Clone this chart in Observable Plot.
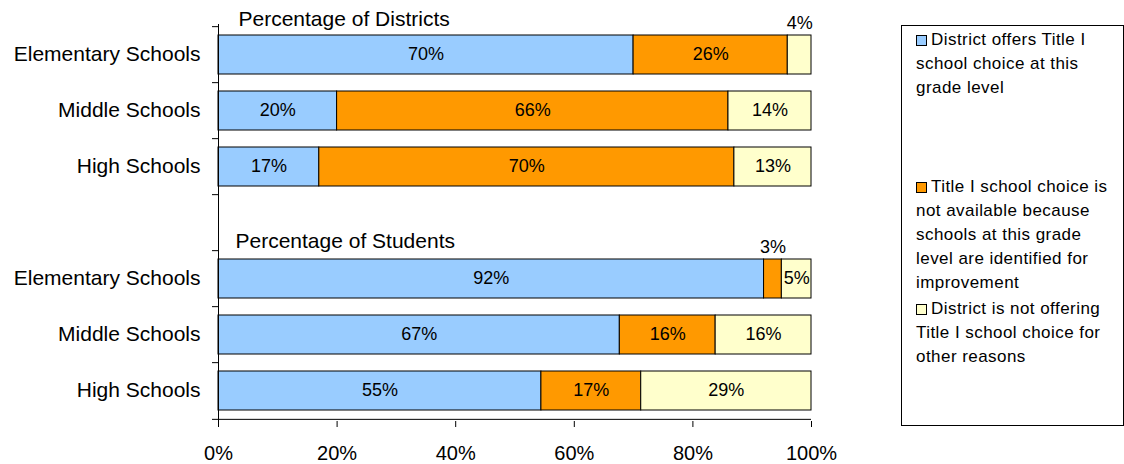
<!DOCTYPE html>
<html><head><meta charset="utf-8">
<script src="https://cdn.jsdelivr.net/npm/d3@7"></script>
<script src="https://cdn.jsdelivr.net/npm/@observablehq/plot@0.6"></script>
<style>
html,body{margin:0;padding:0;background:#fff;}
#wrap{position:relative;width:1124px;height:464px;overflow:hidden;font-family:"Liberation Sans",Arial,sans-serif;background:#fff;}
#chart{position:absolute;left:0;top:0;}
#legend{position:absolute;left:901px;top:25px;width:223px;height:401px;box-sizing:border-box;border:1px solid #000;}
.entry{position:absolute;left:14px;font-size:17px;line-height:24px;white-space:nowrap;color:#000;letter-spacing:0.45px;}
.sw{display:inline-block;width:9px;height:9px;border:1px solid #000;margin-right:4px;vertical-align:-1px;}
</style></head>
<body><div id="wrap"><div id="chart"></div><div id="legend"></div></div>
<script>
const groups = ["Districts", "Students"];
const groupTitles = ["Percentage of Districts", "Percentage of Students"];
const levels = ["Elementary Schools", "Middle Schools", "High Schools"];
const legendLines = [
  ["District offers Title I", "school choice at this", "grade level"],
  ["Title I school choice is", "not available because", "schools at this grade", "level are identified for", "improvement"],
  ["District is not offering", "Title I school choice for", "other reasons"]
];
const seriesNames = legendLines.map(l => l.join(" "));
const seriesColors = ["#99CCFF", "#FF9900", "#FFFFCC"];
// order: Districts (Elem, Middle, High), Students (Elem, Middle, High)
const offers = [70, 20, 17, 92, 67, 55];
const notAvailable = [26, 66, 70, 3, 16, 17];
const otherReasons = [4, 14, 13, 5, 16, 29];
const xTicks = [0, 20, 40, 60, 80, 100];

const yKeys = [];
const yLabel = new Map();
const table = [];
groups.forEach((g, gi) => {
  if (gi > 0) { yKeys.push("gap"); yLabel.set("gap", ""); }
  levels.forEach((l, li) => {
    const key = g + "|" + l;
    yKeys.push(key); yLabel.set(key, l);
    const i = gi * levels.length + li;
    [offers, notAvailable, otherReasons].forEach((arr, si) =>
      table.push({row: key, series: seriesNames[si], value: arr[i]}));
  });
});

const W = 890, H = 464, mt = 24, mb = 43, ml = 218, mr = 79;
const step = (H - mt - mb) / yKeys.length;
const lastKey = yKeys[yKeys.length - 1];
const stackOpts = {x: "value", y: "row", z: "series", offset: "normalize"};
const font = "'Liberation Sans', Arial, sans-serif";
const pct = d => Math.round(d * 100) + "%";

const chart = Plot.plot({
  width: W, height: H,
  marginTop: mt, marginBottom: mb, marginLeft: ml, marginRight: mr,
  style: {fontFamily: font, color: "#000", background: "#fff", overflow: "visible"},
  x: {domain: [0, 1]},
  y: {domain: yKeys, paddingInner: 0.3, paddingOuter: 0.15},
  color: {domain: seriesNames, range: seriesColors},
  marks: [
    Plot.barX(table, Plot.stackX({...stackOpts, fill: "series", stroke: "#000", strokeWidth: 1})),
    Plot.text(table, Plot.stackX({...stackOpts, text: d => d.value >= 5 ? d.value + "%" : null, fontSize: 18, fill: "#000", dy: -1})),
    Plot.text(table, Plot.stackX({...stackOpts, text: d => d.value < 5 ? d.value + "%" : null, fontSize: 18, fill: "#000", dy: -32})),
    Plot.ruleX([0], {stroke: "#000"}),
    Plot.ruleY([lastKey], {dy: step / 2, stroke: "#000"}),
    Plot.ruleY(yKeys, {x1: 0, x2: 0, insetLeft: -6, dy: -step / 2, stroke: "#000"}),
    Plot.ruleY([lastKey], {x1: 0, x2: 0, insetLeft: -6, dy: step / 2, stroke: "#000"}),
    Plot.axisY({tickSize: 0, tickPadding: 18, tickFormat: k => yLabel.get(k), fontSize: 21, dy: -1, label: null}),
    Plot.axisX({ticks: xTicks.map(d => d / 100), tickFormat: pct, tickSize: 6, tickPadding: 18, fontSize: 20, label: null}),
    Plot.text([groupTitles[0]], {x: 0, y: () => yKeys[0], dx: 20, dy: -step / 2 - 1, textAnchor: "start", lineAnchor: "bottom", fontSize: 21, fill: "#000"}),
    Plot.text([groupTitles[1]], {x: 0, y: () => yKeys[4], dx: 17, dy: -step / 2 - 2.4, textAnchor: "start", lineAnchor: "bottom", fontSize: 21, fill: "#000"})
  ]
});
document.getElementById("chart").appendChild(chart);

const legend = document.getElementById("legend");
const tops = [2, 149, 271];
legendLines.forEach((lines, i) => {
  const div = document.createElement("div");
  div.className = "entry";
  div.style.top = tops[i] + "px";
  const sw = document.createElement("span");
  sw.className = "sw";
  sw.style.background = seriesColors[i];
  div.appendChild(sw);
  lines.forEach((t, j) => {
    if (j) div.appendChild(document.createElement("br"));
    div.appendChild(document.createTextNode(t));
  });
  legend.appendChild(div);
});
</script>
</body></html>
